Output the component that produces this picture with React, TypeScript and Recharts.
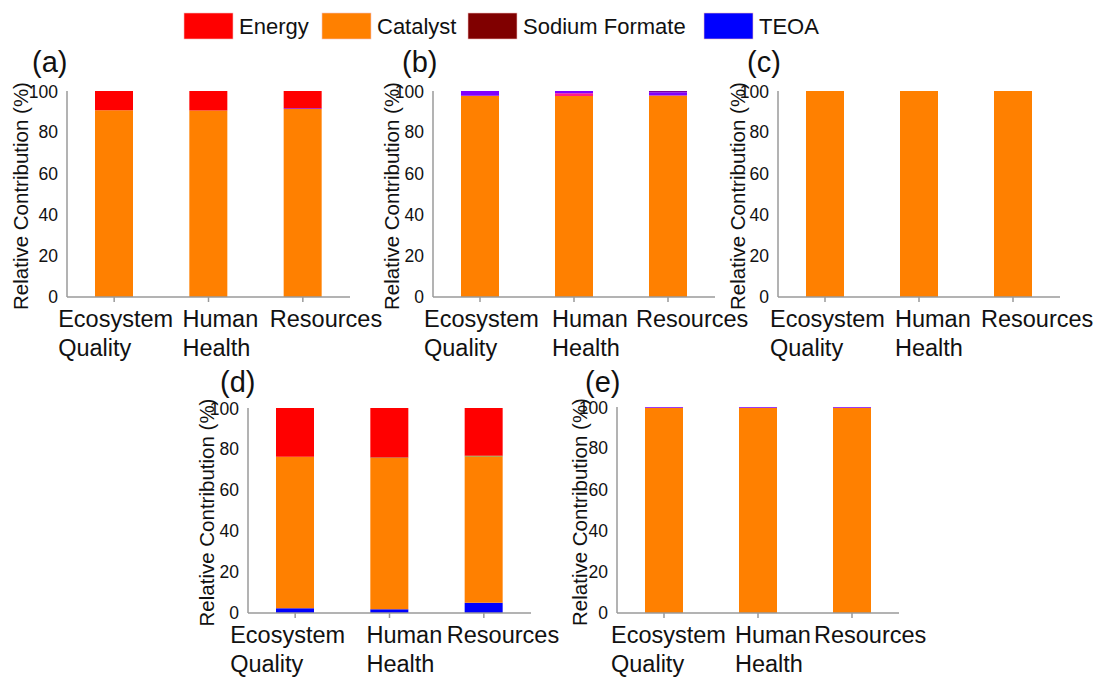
import { BarChart, Bar, XAxis, YAxis } from 'recharts';

const categories = ['Ecosystem Quality', 'Human Health', 'Resources'];
const yTicks = [0, 20, 40, 60, 80, 100];

// legend entries
const legendNames = ['Energy', 'Catalyst', 'Sodium Formate', 'TEOA'];
const legendColors = ['#ff0000', '#ff8000', '#800000', '#0000ff'];

// panel (a)
const aCatalyst = [90.6, 90.5, 91.3];
const aPurple = [0, 0, 0.3];
const aEnergy = [9.4, 9.5, 8.4];

// panel (b)
const bCatalyst = [97.7, 97.6, 97.8];
const bMagenta = [0, 1.3, 0];
const bPurple = [2.3, 1.1, 1.6];
const bDarkPurple = [0, 0, 0.6];

// panel (c)
const cCatalyst = [100, 100, 100];

// panel (d)
const dTeoa = [2.3, 1.8, 5.0];
const dCatalyst = [73.9, 73.8, 71.3];
const dGreen = [0, 0.3, 0.4];
const dEnergy = [23.8, 24.1, 23.3];

// panel (e)
const eCatalyst = [99.6, 99.6, 99.6];
const ePurple = [0.4, 0.4, 0.4];

const zeros = [0, 0, 0];

// bottom to top
const SERIES = [
  { key: 'teoa', color: '#0000ff' },
  { key: 'catalyst', color: '#ff8000' },
  { key: 'green', color: '#6b8e23' },
  { key: 'magenta', color: '#ff1a8c' },
  { key: 'purple', color: '#8000ff' },
  { key: 'darkPurple', color: '#7a00a0' },
  { key: 'energy', color: '#ff0000' },
];

const FONT = '"Liberation Sans", Arial, Helvetica, sans-serif';
const AXIS = '#9a9a9a';

function rows(v: Record<string, number[]>) {
  return categories.map((name, i) => {
    const r: any = { name };
    SERIES.forEach((s) => {
      r[s.key] = (v[s.key] || zeros)[i];
    });
    return r;
  });
}

const panels = [
  {
    letter: '(a)', plotLeft: 67, plotTop: 91, plotW: 283, plotH: 206, labelX: 28, letterX: 32, letterY: 72,
    dxs: [-56, -26, -33],
    data: rows({ catalyst: aCatalyst, purple: aPurple, energy: aEnergy }),
  },
  {
    letter: '(b)', plotLeft: 433, plotTop: 91, plotW: 282, plotH: 206, labelX: 399, letterX: 402, letterY: 72,
    dxs: [-56, -22, -32],
    data: rows({ catalyst: bCatalyst, magenta: bMagenta, purple: bPurple, darkPurple: bDarkPurple }),
  },
  {
    letter: '(c)', plotLeft: 778, plotTop: 91, plotW: 282, plotH: 206, labelX: 745, letterX: 747, letterY: 72,
    dxs: [-55, -24, -32],
    data: rows({ catalyst: cCatalyst }),
  },
  {
    letter: '(d)', plotLeft: 248, plotTop: 408, plotW: 283, plotH: 205, labelX: 214, letterX: 220, letterY: 392,
    dxs: [-65, -23, -37],
    data: rows({ teoa: dTeoa, catalyst: dCatalyst, green: dGreen, energy: dEnergy }),
  },
  {
    letter: '(e)', plotLeft: 617, plotTop: 407, plotW: 282, plotH: 206, labelX: 587, letterX: 585, letterY: 392,
    dxs: [-53, -23, -38],
    data: rows({ catalyst: eCatalyst, purple: ePurple }),
  },
];

const YW = 60;
const TOP = 10;
const XH = 75;
const RIGHT = 50;

function CatTick({ x, y, payload, index, dxs }: any) {
  const lines = String(payload.value).split(' ');
  return (
    <g>
      {lines.map((l: string, i: number) => (
        <text
          key={i}
          x={x + dxs[index]}
          y={y + 23 + i * 29}
          textAnchor="start"
          fontSize={23.5}
          fontFamily={FONT}
          fill="#111"
        >
          {l}
        </text>
      ))}
    </g>
  );
}

function Panel({ p }: any) {
  const chartLeft = p.plotLeft - YW;
  const width = YW + p.plotW + RIGHT;
  const height = TOP + p.plotH + XH;
  const lx = p.labelX - chartLeft;
  return (
    <div style={{ position: 'absolute', left: chartLeft, top: p.plotTop - TOP }}>
      <BarChart width={width} height={height} data={p.data} margin={{ top: TOP, right: RIGHT, bottom: 0, left: 0 }}>
        <XAxis
          dataKey="name"
          height={XH}
          stroke={AXIS}
          strokeWidth={1.5}
          tickSize={5}
          tickLine={{ stroke: AXIS }}
          tick={(props: any) => <CatTick {...props} dxs={p.dxs} />}
          interval={0}
        />
        <XAxis xAxisId="top" orientation="top" dataKey="name" height={0} tick={false} tickLine={false} stroke={AXIS} strokeWidth={1.5} />
        <YAxis
          width={YW}
          domain={[0, 100]}
          ticks={yTicks}
          tickLine={false}
          stroke={AXIS}
          strokeWidth={1.5}
          tickMargin={3}
          tick={{ fill: '#111', fontSize: 17.5, fontFamily: FONT }}
          label={{
            content: ({ viewBox }: any) => {
              const cy = viewBox.y + viewBox.height / 2 + 2;
              return (
                <text
                  x={lx}
                  y={cy}
                  transform={`rotate(-90, ${lx}, ${cy})`}
                  textAnchor="middle"
                  fontSize={20.5}
                  fontFamily={FONT}
                  fill="#111"
                >
                  Relative Contribution (%)
                </text>
              );
            },
          }}
        />
        <YAxis yAxisId="right" orientation="right" width={0} domain={[0, 100]} tick={false} tickLine={false} stroke={AXIS} strokeWidth={1.5} />
        {SERIES.map((s) => (
          <Bar key={s.key} dataKey={s.key} stackId="s" fill={s.color} barSize={38} isAnimationActive={false} />
        ))}
      </BarChart>
    </div>
  );
}

const legendBoxX = [184, 322, 468, 704];

export default function App() {
  return (
    <div style={{ position: 'absolute', left: 0, top: 0, width: 1096, height: 677, background: '#fff', fontFamily: FONT }}>
      {panels.map((p) => (
        <Panel key={p.letter} p={p} />
      ))}
      <svg width={1096} height={677} style={{ position: 'absolute', left: 0, top: 0, pointerEvents: 'none' }}>
        {legendNames.map((n, i) => (
          <g key={n}>
            <rect x={legendBoxX[i]} y={13} width={49} height={26} fill={legendColors[i]} stroke="#f4c0c0" strokeWidth={0.6} />
            <text x={legendBoxX[i] + 55} y={34} fontSize={22} fontFamily={FONT} fill="#111">
              {n}
            </text>
          </g>
        ))}
        {panels.map((p) => (
          <text key={p.letter} x={p.letterX} y={p.letterY} fontSize={29} fontFamily={FONT} fill="#111">
            {p.letter}
          </text>
        ))}
      </svg>
    </div>
  );
}
